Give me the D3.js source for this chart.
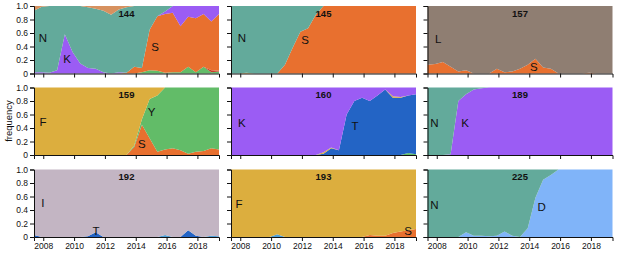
<!DOCTYPE html>
<html><head><meta charset="utf-8">
<script src="https://cdn.jsdelivr.net/npm/d3@7"></script>
<style>
body{margin:0;background:#fff}
text{font-family:"Liberation Sans",Arial,Helvetica,sans-serif}
</style>
</head><body>
<svg id="c" width="617" height="253"></svg>
<script>
// ---------- data ----------
const years = [2007.4,2007.9,2008.4,2008.9,2009.4,2009.9,2010.4,2010.9,2011.4,2011.9,2012.4,2012.9,
               2013.4,2013.9,2014.4,2014.9,2015.4,2015.9,2016.4,2016.9,2017.4,2017.9,2018.4,2018.9,2019.4];
const xTickYears = [2008,2010,2012,2014,2016,2018];
const yTickValues = [0,0.2,0.4,0.6,0.8,1.0];
const yTickLabels = ["0","0.2","0.4","0.6","0.8","1.0"];

// site 144
const s144_Y = [0,0,0,0,0,0,0,0,0,0,0,0,0,0,0.02,0.05,0.04,0.01,0.02,0.02,0.10,0.02,0.10,0.02,0.03];
const s144_R = [0,0,0,0,0,0,0,0,0,0,0,0,0,0,0,0,0,0,0,0,0,0,0,0.03,0.01];
const s144_S = [0,0,0,0,0,0,0,0,0,0,0,0,0.01,0.10,0.06,0.60,0.81,0.87,0.88,0.68,0.74,0.80,0.78,0.72,0.84];
const s144_K = [0.02,0.02,0.01,0.05,0.58,0.32,0.15,0.08,0.07,0.02,0,0.02,0,0,0,0,0,0.04,0.10,0.30,0.16,0.18,0.12,0.23,0.12];
const s144_N = [0.91,0.97,0.99,0.95,0.42,0.68,0.85,0.90,0.89,0.91,0.87,0.93,0.97,0.90,0.92,0.35,0.15,0.08,0,0,0,0,0,0,0];
const s144_O = [0.07,0.01,0,0,0,0,0,0.02,0.04,0.07,0.13,0.05,0.02,0,0,0,0,0,0,0,0,0,0,0,0];
// site 145
const s145_F = [0,0,0.01,0,0,0,0,0,0,0,0,0,0,0,0,0,0,0,0,0,0,0,0,0,0];
const s145_S = [0,0,0,0,0,0,0,0.13,0.38,0.62,0.67,0.87,1,1,1,1,1,1,1,1,1,1,1,1,1];
const s145_N = [1,1,0.99,1,1,1,1,0.87,0.62,0.38,0.33,0.13,0,0,0,0,0,0,0,0,0,0,0,0,0];
// site 157
const s157_S = [0.13,0.14,0.17,0.10,0.03,0.05,0,0,0,0.07,0.02,0.03,0.07,0.13,0.22,0.09,0.07,0,0,0,0,0.01,0,0,0];
const s157_L = [0.87,0.86,0.83,0.90,0.97,0.95,1,1,1,0.93,0.98,0.97,0.93,0.87,0.78,0.91,0.93,1,1,1,1,0.99,1,1,1];
// site 159
const s159_S = [0,0,0,0,0,0,0,0,0,0,0,0,0,0.12,0.45,0.25,0.05,0.08,0.10,0.07,0.02,0.05,0.06,0.10,0.08];
const s159_Y = [0,0,0,0,0,0,0,0,0,0,0,0,0,0.02,0.08,0.58,0.83,0.92,0.90,0.93,0.98,0.95,0.94,0.90,0.92];
const s159_F = [1,1,1,1,1,1,1,1,1,1,1,1,1,0.86,0.47,0.17,0.12,0,0,0,0,0,0,0,0];
// site 160
const s160_Y = [0,0,0,0,0,0,0,0,0,0,0,0,0,0,0,0,0,0,0,0,0,0,0,0.03,0.01];
const s160_T = [0,0,0,0,0,0,0,0,0,0,0,0,0.02,0.10,0.07,0.60,0.80,0.85,0.80,0.88,0.97,0.85,0.85,0.85,0.89];
const s160_F = [0,0,0,0,0,0,0,0,0,0,0,0,0.02,0.01,0,0,0,0,0,0,0,0.02,0.01,0,0];
const s160_K = [1,1,1,1,1,1,1,1,1,1,1,1,0.96,0.89,0.93,0.40,0.20,0.15,0.20,0.12,0.03,0.13,0.14,0.12,0.10];
// site 189
const s189_K = [0,0,0,0.01,0.80,0.90,0.97,0.99,1,1,1,1,1,1,1,1,1,1,1,1,1,1,1,1,1];
const s189_N = [1,1,1,0.99,0.20,0.10,0.03,0.01,0,0,0,0,0,0,0,0,0,0,0,0,0,0,0,0,0];
// site 192
const s192_T = [0.03,0,0,0,0,0,0,0.01,0.07,0,0,0,0,0,0,0,0,0,0,0,0.10,0.02,0,0,0];
const s192_B = [0,0,0,0,0,0,0,0,0,0,0,0,0,0,0,0,0,0.03,0,0,0,0,0,0.02,0.01];
const s192_I = [0.97,1,1,1,1,1,1,0.99,0.93,1,1,1,1,1,1,1,1,0.97,1,1,0.90,0.98,1,0.98,0.99];
// site 193
const s193_B = [0,0,0,0,0,0,0.04,0,0,0,0,0,0,0,0,0,0,0,0,0,0,0,0,0,0];
const s193_S = [0,0,0,0,0,0,0,0,0,0,0,0,0,0,0,0,0,0,0.03,0.02,0.02,0.06,0.08,0.10,0.12];
const s193_F = [1,1,1,1,1,1,0.96,1,1,1,1,1,1,1,1,1,1,1,0.97,0.98,0.98,0.94,0.92,0.90,0.88];
// site 225
const s225_D = [0,0,0,0,0,0.07,0.02,0.02,0.01,0.02,0.08,0.02,0,0.13,0.58,0.85,0.92,1,1,1,1,1,1,1,1];
const s225_N = [1,1,1,1,1,0.93,0.98,0.98,0.99,0.98,0.92,0.98,1,0.87,0.42,0.15,0.08,0,0,0,0,0,0,0,0];

// ---------- styles ----------
const COL = {N:"#63aa9b", S:"#e8702f", K:"#9b5cf4", O:"#d7915f", Y:"#62bc68", R:"#c83a2a",
             L:"#8f7e72", F:"#dcae3e", T:"#2364c5", I:"#c3b5c3", D:"#80b4f9", B:"#4f9fd6"};

const panels = [
  {title:"144", layers:[["Y",s144_Y],["R",s144_R],["S",s144_S],["K",s144_K],["N",s144_N],["O",s144_O]],
   labels:[["N",2007.98,0.53],["K",2009.54,0.21],["S",2015.25,0.39]]},
  {title:"145", layers:[["F",s145_F],["S",s145_S],["N",s145_N]],
   labels:[["N",2008.1,0.53],["S",2012.2,0.50]]},
  {title:"157", layers:[["S",s157_S],["L",s157_L]],
   labels:[["L",2008.1,0.51],["S",2014.3,0.10]]},
  {title:"159", layers:[["S",s159_S],["Y",s159_Y],["F",s159_F]],
   labels:[["F",2007.98,0.49],["Y",2015.03,0.63],["S",2014.4,0.16]]},
  {title:"160", layers:[["Y",s160_Y],["T",s160_T],["F",s160_F],["K",s160_K]],
   labels:[["K",2008.1,0.48],["T",2015.44,0.43]]},
  {title:"189", layers:[["K",s189_K],["N",s189_N]],
   labels:[["N",2007.85,0.48],["K",2009.83,0.48]]},
  {title:"192", layers:[["T",s192_T],["B",s192_B],["I",s192_I]],
   labels:[["I",2007.98,0.50],["T",2011.42,0.09]]},
  {title:"193", layers:[["B",s193_B],["S",s193_S],["F",s193_F]],
   labels:[["F",2007.92,0.49],["S",2018.88,0.09]]},
  {title:"225", layers:[["D",s225_D],["N",s225_N]],
   labels:[["N",2007.85,0.47],["D",2014.8,0.45]]}
];

// ---------- layout ----------
const colX = [34, 231, 427.5], rowY = [6, 87.5, 169.5], PW = 185, PH = 67.5;
const svg = d3.select("#c");

panels.forEach((p, i) => {
  const col = i % 3, row = Math.floor(i / 3);
  const x = d3.scaleLinear().domain([2007.4, 2019.4]).range([colX[col], colX[col] + PW]);
  const y = d3.scaleLinear().domain([0, 1]).range([rowY[row] + PH, rowY[row]]);
  const g = svg.append("g");
  const keys = p.layers.map(l => l[0]);
  const rows = years.map((yr, j) => {
    const o = {year: yr};
    p.layers.forEach(l => { o[l[0]] = l[1][j]; });
    return o;
  });
  const st = d3.stack().keys(keys).offset(d3.stackOffsetExpand)(rows);
  const area = d3.area().x(d => x(d.data.year)).y0(d => y(d[0])).y1(d => y(d[1]));
  g.selectAll("path.a").data(st).join("path").attr("class", "a")
    .attr("d", area).attr("fill", d => COL[d.key]);

  // axes
  const ya = d3.axisLeft(y).tickValues(yTickValues).tickSize(4).tickSizeOuter(4).tickPadding(2)
    .tickFormat((d, k) => col === 0 ? yTickLabels[k] : "");
  const xa = d3.axisBottom(x).tickValues(xTickYears).tickSize(4).tickSizeOuter(4).tickPadding(2)
    .tickFormat(d => row === 2 ? String(d) : "");
  const gy = g.append("g").attr("transform", `translate(${colX[col]},0)`).call(ya);
  const gx = g.append("g").attr("transform", `translate(0,${rowY[row] + PH})`).call(xa);
  [gy, gx].forEach(a => {
    a.selectAll("text").attr("font-size", 8.5).attr("fill", "#111")
      .attr("font-family", '"Liberation Sans",Arial,sans-serif');
    a.selectAll("path,line").attr("stroke", "#111");
  });

  // labels
  g.append("text").attr("x", x(2013.4)).attr("y", y(0.89)).attr("text-anchor", "middle")
    .attr("dominant-baseline", "central").attr("font-size", 9.5).attr("font-weight", "bold")
    .attr("fill", "#111").text(p.title);
  p.labels.forEach(l => {
    g.append("text").attr("x", x(l[1])).attr("y", y(l[2])).attr("text-anchor", "middle")
      .attr("dominant-baseline", "central").attr("font-size", 11.5).attr("fill", "#111").text(l[0]);
  });
});

svg.append("text").attr("transform", "translate(8,121) rotate(-90)")
  .attr("text-anchor", "middle").attr("dominant-baseline", "central")
  .attr("font-size", 9.5).attr("fill", "#111").text("frequency");
</script>
</body></html>
